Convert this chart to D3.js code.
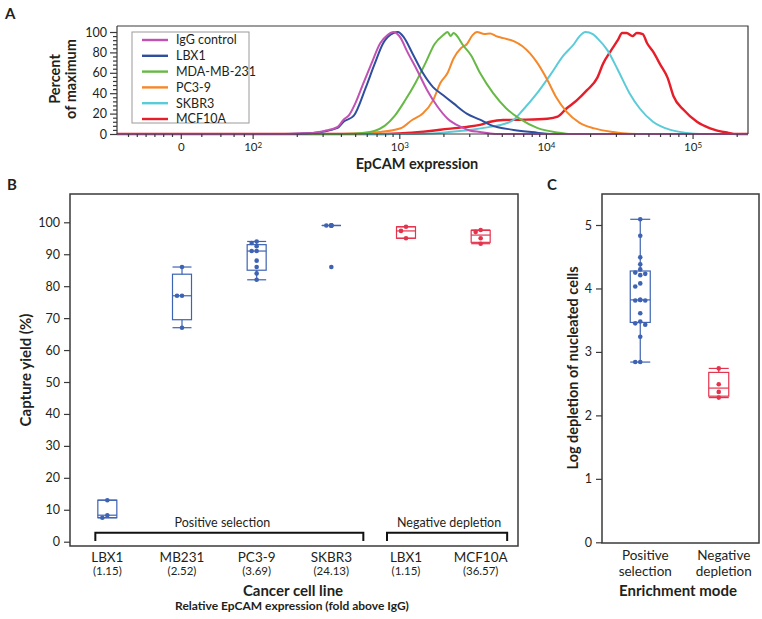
<!DOCTYPE html>
<html><head><meta charset="utf-8">
<script src="https://cdn.jsdelivr.net/npm/d3@7"></script>
<style>
body{margin:0;background:#fff}
svg{display:block}
text{font-family:Lato,"Open Sans",sans-serif;fill:#231f20}
</style>
</head><body>
<svg id="chart" width="762" height="619"></svg>
<script>
// ================= DATA =================
// Panel A: flow-cytometry histograms, x = log10(EpCAM expression), y = percent of maximum
const seriesNamesA = ["IgG control","LBX1","MDA-MB-231","PC3-9","SKBR3","MCF10A"];
const iggControl = [[2.22,0],[2.32,0.5],[2.41,1],[2.49,3],[2.58,7],[2.62,14],[2.66,19],[2.70,30],[2.75,48],[2.81,69],[2.87,89],[2.92,97],[2.96,100],[3.01,94],[3.05,82],[3.12,63],[3.19,43],[3.26,27],[3.33,15],[3.42,7],[3.48,3.5],[3.55,2],[3.62,0.5],[3.69,0]];
const lbx1Hist = [[2.22,0],[2.41,1],[2.58,6],[2.62,12],[2.69,18],[2.77,45],[2.83,68],[2.89,89],[2.96,99],[2.99,100],[3.03,95],[3.09,79],[3.16,60],[3.23,46],[3.30,38],[3.37,30],[3.46,20],[3.55,14],[3.62,9],[3.78,4],[3.94,1.3],[4.03,0]];
const mdaHist = [[2.62,0],[2.75,1],[2.83,3],[2.90,8],[2.97,18],[3.04,33],[3.11,50],[3.18,70],[3.24,88],[3.30,97],[3.33,100],[3.35,96],[3.37,99],[3.40,95],[3.43,88],[3.49,77],[3.55,60],[3.64,40],[3.73,25],[3.82,15],[3.94,6],[4.08,1.5],[4.17,0]];
const pc39Hist = [[2.59,0],[2.87,2],[3.01,5.6],[3.09,14],[3.16,20],[3.23,33],[3.28,50],[3.33,60],[3.37,74],[3.42,84],[3.46,88],[3.50,97],[3.53,100],[3.58,98],[3.62,98.5],[3.66,96],[3.71,94],[3.78,91],[3.84,86],[3.94,70],[4.01,53],[4.07,36],[4.14,22],[4.23,11],[4.33,5.5],[4.46,2],[4.57,0.3],[4.68,0]];
const skbr3Hist = [[3.01,0],[3.21,0.5],[3.34,2],[3.48,4],[3.62,7],[3.72,10],[3.78,14],[3.84,23],[3.94,40],[4.03,58],[4.12,77],[4.19,88],[4.23,96],[4.27,100],[4.32,98],[4.35,94],[4.42,82],[4.49,63],[4.57,40],[4.64,25],[4.73,12],[4.85,4],[4.96,1],[5.05,0]];
const mcf10aHist = [[2.87,0],[3.05,1],[3.21,3],[3.33,5],[3.46,7],[3.55,9],[3.62,12],[3.71,13.7],[3.84,14],[4.01,15],[4.08,17],[4.14,25],[4.21,33],[4.28,43],[4.35,55],[4.39,69],[4.44,81],[4.49,92],[4.52,99],[4.55,99],[4.59,96],[4.62,99],[4.66,98],[4.69,89],[4.73,81],[4.78,68],[4.83,55],[4.87,37],[4.94,23.5],[5.03,12],[5.12,5.6],[5.24,1.3],[5.30,0]];
const xTickExponentsA = [null,2,3,4,5];      // null = the "0" tick of the biexponential axis
const yTicksA = [0,20,40,60,80,100];

// Panel B: capture yield (%)
const cellLinesB = ["LBX1","MB231","PC3-9","SKBR3","LBX1","MCF10A"];
const foldLabelsB = ["(1.15)","(2.52)","(3.69)","(24.13)","(1.15)","(36.57)"];
const modeB = ["pos","pos","pos","pos","neg","neg"];
const yieldLBX1Pos = [13,8.3,7.5];
const yieldMB231 = [86,77,77,67];
const yieldPC39 = [94,93.5,92.5,91,91,88,86,84,82];
const yieldSKBR3 = [99,99,99,99,99,99,86];
const yieldLBX1Neg = [98.6,97.3,95.0];
const yieldMCF10A = [97.6,97,95,93.3];
const yTicksB = [0,10,20,30,40,50,60,70,80,90,100];

// Panel C: log depletion of nucleated cells
const modesC = [["Positive","selection"],["Negative","depletion"]];
const depletionPositive = [5.09,4.83,4.49,4.38,4.30,4.25,4.23,4.21,4.08,4.03,3.82,3.81,3.81,3.82,3.61,3.48,3.45,3.43,3.24,2.84,2.84];
const depletionNegative = [2.74,2.49,2.37,2.28];
const yTicksC = [0,1,2,3,4,5];

// ================= STYLE =================
const histColors = ["#c052b4","#2f4f9e","#67b946","#f5882a","#5ccbd8","#e61e2a"];
const blue = "#3e63b3", red = "#e4334d", ink = "#231f20", frameCol = "#3a3a3a";

const svg = d3.select("#chart");

function quant(sorted, p){ // (n+1)p quantile definition
  const n = sorted.length; const pos = p*(n+1);
  if (pos <= 1) return sorted[0];
  if (pos >= n) return sorted[n-1];
  const i = Math.floor(pos), f = pos - i;
  return sorted[i-1] + f*(sorted[i]-sorted[i-1]);
}
function boxStats(vals){
  const s = vals.slice().sort((a,b)=>a-b);
  const q1 = quant(s,0.25), med = quant(s,0.5), q3 = quant(s,0.75), iqr = q3-q1;
  const lo = d3.min(s.filter(v=>v>=q1-1.5*iqr)), hi = d3.max(s.filter(v=>v<=q3+1.5*iqr));
  return {q1,med,q3,lo,hi};
}
function placeDots(vals, y, cx, offsets){
  const placed = [];
  return vals.map(v=>{
    const py = y(v); let chosen = 0;
    const ties = placed.filter(p=>p.v===v).length;
    if (ties < 2){
      for (const o of offsets){
        if (placed.every(p=>Math.hypot(p.x-(cx+o), p.y-py) >= 4.6)){ chosen = o; break; }
      }
    }
    const pt = {x:cx+chosen, y:py, v}; placed.push(pt); return pt;
  });
}
function drawBox(g, vals, cx, y, w, color, offsets){
  const st = boxStats(vals);
  const gg = g.append("g").attr("stroke",color).attr("stroke-width",1.2).attr("fill","none");
  gg.append("line").attr("x1",cx).attr("x2",cx).attr("y1",y(st.q3)).attr("y2",y(st.hi));
  gg.append("line").attr("x1",cx).attr("x2",cx).attr("y1",y(st.q1)).attr("y2",y(st.lo));
  gg.append("line").attr("x1",cx-w/2).attr("x2",cx+w/2).attr("y1",y(st.hi)).attr("y2",y(st.hi));
  gg.append("line").attr("x1",cx-w/2).attr("x2",cx+w/2).attr("y1",y(st.lo)).attr("y2",y(st.lo));
  gg.append("rect").attr("x",cx-w/2).attr("width",w).attr("y",y(st.q3)).attr("height",Math.max(0,y(st.q1)-y(st.q3)));
  gg.append("line").attr("x1",cx-w/2).attr("x2",cx+w/2).attr("y1",y(st.med)).attr("y2",y(st.med));
  g.append("g").selectAll("circle").data(placeDots(vals,y,cx,offsets)).join("circle")
    .attr("cx",d=>d.x).attr("cy",d=>d.y).attr("r",2.3).attr("fill",color);
}
function styleAxis(g){
  g.select(".domain").remove();
  g.selectAll(".tick line").attr("stroke",frameCol).attr("stroke-width",1.2);
  g.selectAll(".tick text").attr("fill",ink).style("font-size","12.5px");
}

// ================= PANEL A =================
const A = {left:117, right:748, top:26, bottom:134};
const xA = d3.scaleLinear().domain([1.075,5.378]).range([A.left,A.right]);
const yA = d3.scaleLinear().domain([0,100]).range([A.bottom,32]);
const zeroDisplay = 1.51;

svg.append("text").attr("x",5).attr("y",19).style("font-size","15px").style("font-weight","bold").text("A");

svg.append("defs").append("clipPath").attr("id","clipA").append("rect")
  .attr("x",A.left).attr("y",A.top).attr("width",A.right-A.left).attr("height",A.bottom-A.top+2);

const curvesA = [iggControl,lbx1Hist,mdaHist,pc39Hist,skbr3Hist,mcf10aHist];
const lineA = d3.line().x(d=>xA(d[0])).y(d=>yA(d[1])).curve(d3.curveMonotoneX);
const drawOrder = [5,4,3,2,1,0];
const gCurves = svg.append("g").attr("clip-path","url(#clipA)");
drawOrder.forEach(i=>{
  const pts = [[xA.domain()[0],0], ...curvesA[i], [xA.domain()[1],0]];
  gCurves.append("path").attr("d",lineA(pts)).attr("fill","none")
    .attr("stroke",histColors[i]).attr("stroke-width", i===5 ? 2.4 : 2).attr("stroke-linejoin","round");
});

// frame
svg.append("path").attr("d",`M${A.left},${A.top}H${A.right}V${A.bottom}`).attr("fill","none").attr("stroke",frameCol).attr("stroke-width",1.2);
svg.append("line").attr("x1",A.left).attr("x2",A.right).attr("y1",A.bottom).attr("y2",A.bottom).attr("stroke",frameCol).attr("stroke-width",1.2);
svg.append("line").attr("x1",A.left).attr("x2",A.left).attr("y1",A.top).attr("y2",A.bottom).attr("stroke",frameCol).attr("stroke-width",1.2);

// y axis A
const gyA = svg.append("g").attr("transform",`translate(${A.left},0)`)
  .call(d3.axisLeft(yA).tickValues(yTicksA).tickSize(7).tickPadding(3));
styleAxis(gyA);
const gyAm = svg.append("g").attr("transform",`translate(${A.left},0)`)
  .call(d3.axisLeft(yA).tickValues(d3.range(0,101,4).filter(v=>v%20!==0)).tickSize(4).tickFormat(""));
styleAxis(gyAm);

// x axis A
const xTickVals = xTickExponentsA.map(e=> e===null ? zeroDisplay : e);
const gxA = svg.append("g").attr("transform",`translate(0,${A.bottom})`)
  .call(d3.axisBottom(xA).tickValues(xTickVals).tickSize(5).tickPadding(4).tickFormat(""));
styleAxis(gxA);
gxA.selectAll(".tick text").each(function(d,i){
  const t = d3.select(this); const e = xTickExponentsA[i];
  t.style("font-size","11.5px");
  if (e===null){ t.text("0"); }
  else { t.append("tspan").text("10"); t.append("tspan").attr("dy","-0.45em").style("font-size","8px").text(e); }
});
const minorX = [];
for (let k=2;k<=5;k++) for (let m=2;m<=9;m++){ const v=k+Math.log10(m); if (v<xA.domain()[1]) minorX.push(v); }
for (let i=1;i<=6;i++) minorX.push(zeroDisplay-0.06*i);
[0.14,0.27,0.36,0.43].forEach(o=>minorX.push(zeroDisplay+o));
const gxAm = svg.append("g").attr("transform",`translate(0,${A.bottom})`)
  .call(d3.axisBottom(xA).tickValues(minorX).tickSize(3).tickFormat(""));
styleAxis(gxAm);

svg.append("text").attr("x",417).attr("y",169).attr("text-anchor","middle")
  .style("font-size","14.5px").style("font-weight","bold").text("EpCAM expression");
const yTitleA = svg.append("text").attr("transform","translate(60,79) rotate(-90)").attr("text-anchor","middle")
  .style("font-size","14.5px").style("font-weight","bold");
yTitleA.append("tspan").attr("x",0).attr("dy",0).text("Percent");
yTitleA.append("tspan").attr("x",0).attr("dy","1.12em").text("of maximum");

// legend
const leg = svg.append("g");
leg.append("rect").attr("x",132).attr("y",32).attr("width",117).attr("height",91)
  .attr("fill","#fff").attr("stroke","#9a9a9a").attr("stroke-width",1);
seriesNamesA.forEach((n,i)=>{
  const y = 40 + i*15.8;
  leg.append("line").attr("x1",142).attr("x2",168).attr("y1",y).attr("y2",y).attr("stroke",histColors[i]).attr("stroke-width",2.4);
  leg.append("text").attr("x",176).attr("y",y+4.3).style("font-size","12.5px").text(n);
});

// ================= PANEL B =================
const B = {left:70, right:518, top:194, bottom:546};
const yB = d3.scaleLinear().domain([0,100]).range([541.7,222.3]);
const xB = d3.scaleBand().domain(d3.range(cellLinesB.length)).range([B.left,B.right]);
const cB = i => xB(i) + xB.bandwidth()/2;

svg.append("text").attr("x",7).attr("y",190).style("font-size","15px").style("font-weight","bold").text("B");
svg.append("rect").attr("x",B.left).attr("y",B.top).attr("width",B.right-B.left).attr("height",B.bottom-B.top)
  .attr("fill","none").attr("stroke",frameCol).attr("stroke-width",1.5);
const gyB = svg.append("g").attr("transform",`translate(${B.left},0)`)
  .call(d3.axisLeft(yB).tickValues(yTicksB).tickSize(6).tickPadding(4));
styleAxis(gyB);

const yieldsB = [yieldLBX1Pos,yieldMB231,yieldPC39,yieldSKBR3,yieldLBX1Neg,yieldMCF10A];
const gB = svg.append("g");
yieldsB.forEach((vals,i)=>{
  drawBox(gB, vals, cB(i), yB, 19, modeB[i]==="pos"?blue:red, [0,-5,5]);
});

// brackets
function bracket(x1,x2,label,lx){
  svg.append("path").attr("d",`M${x1},${541}V${532.7}H${x2}V${541}`).attr("fill","none")
    .attr("stroke","#111").attr("stroke-width",2);
  svg.append("text").attr("x",lx).attr("y",526.5).attr("text-anchor","middle").style("font-size","12.5px").text(label);
}
bracket(cB(0)-12, cB(3)+32, "Positive selection", (cB(0)-12+cB(3)+32)/2-7);
bracket(cB(4)-19, cB(5)+26.5, "Negative depletion", (cB(4)-19+cB(5)+26.5)/2+2);

cellLinesB.forEach((n,i)=>{
  svg.append("text").attr("x",cB(i)).attr("y",561.5).attr("text-anchor","middle").style("font-size","13.5px").text(n);
  svg.append("text").attr("x",cB(i)).attr("y",575).attr("text-anchor","middle").style("font-size","11.5px").text(foldLabelsB[i]);
});
svg.append("text").attr("x",293).attr("y",596).attr("text-anchor","middle").style("font-size","15px").style("font-weight","bold").text("Cancer cell line");
svg.append("text").attr("x",292).attr("y",610).attr("text-anchor","middle").style("font-size","12px").style("font-weight","bold").text("Relative EpCAM expression (fold above IgG)");
svg.append("text").attr("transform","translate(31,370) rotate(-90)").attr("text-anchor","middle")
  .style("font-size","15px").style("font-weight","bold").text("Capture yield (%)");

// ================= PANEL C =================
const C = {left:602, right:759, top:194, bottom:543};
const yC = d3.scaleLinear().domain([0,5]).range([542.3,225]);
const xC = d3.scaleBand().domain([0,1]).range([C.left,C.right]);
const cC = i => xC(i) + xC.bandwidth()/2 - 1;

svg.append("text").attr("x",547).attr("y",190).style("font-size","15px").style("font-weight","bold").text("C");
svg.append("rect").attr("x",C.left).attr("y",C.top).attr("width",C.right-C.left).attr("height",C.bottom-C.top)
  .attr("fill","none").attr("stroke",frameCol).attr("stroke-width",1.5);
const gyC = svg.append("g").attr("transform",`translate(${C.left},0)`)
  .call(d3.axisLeft(yC).tickValues(yTicksC).tickFormat(d3.format("d")).tickSize(6).tickPadding(4));
styleAxis(gyC);
const gC = svg.append("g");
drawBox(gC, depletionPositive, cC(0), yC, 20, blue, [0,-5,5,-9,9]);
drawBox(gC, depletionNegative, cC(1), yC, 20, red, [0,-5,5]);
modesC.forEach((lines,i)=>{
  const t = svg.append("text").attr("x",cC(i)+5).attr("y",560).attr("text-anchor","middle").style("font-size","13.5px");
  t.append("tspan").attr("x",cC(i)+5).text(lines[0]);
  t.append("tspan").attr("x",cC(i)+5).attr("dy","1.2em").text(lines[1]);
});
svg.append("text").attr("x",678).attr("y",596).attr("text-anchor","middle").style("font-size","15px").style("font-weight","bold").text("Enrichment mode");
svg.append("text").attr("transform","translate(577.5,368) rotate(-90)").attr("text-anchor","middle")
  .style("font-size","14.5px").style("font-weight","bold").text("Log depletion of nucleated cells");
</script>
</body></html>
